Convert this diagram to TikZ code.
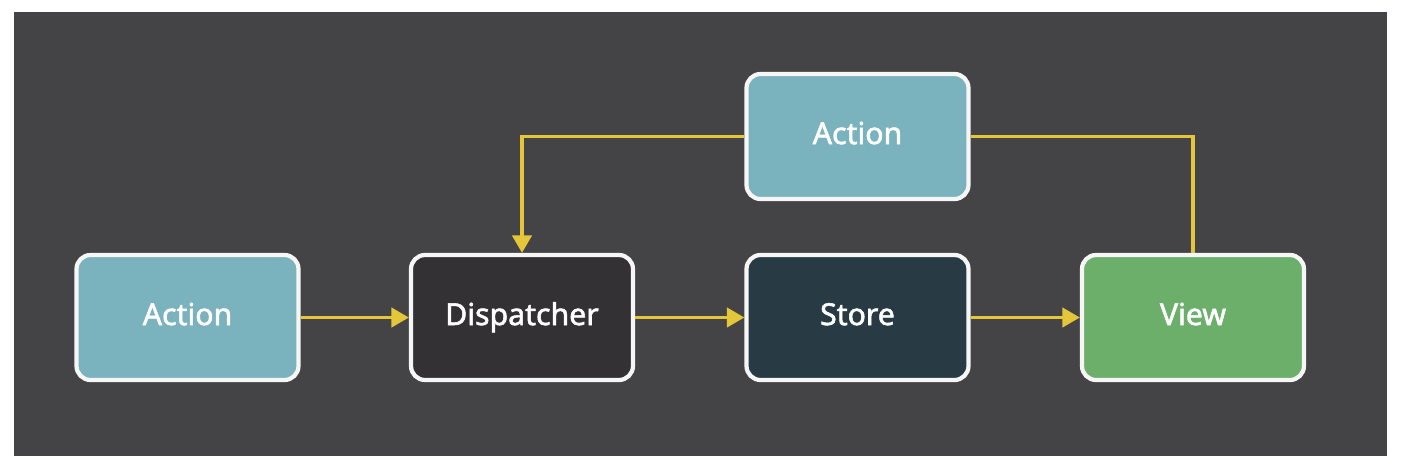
\documentclass[tikz,border=0pt]{standalone}
\usepackage{fontspec}
\setmainfont{Noto Sans}[AutoFakeBold=1.8]
\usepackage{tikz}
\usetikzlibrary{arrows.meta}

\definecolor{bgdark}{RGB}{68,68,70}
\definecolor{actionblue}{RGB}{122,178,189}
\definecolor{dispgray}{RGB}{51,49,51}
\definecolor{storeslate}{RGB}{40,59,68}
\definecolor{viewgreen}{RGB}{108,175,107}
\definecolor{flowyellow}{RGB}{228,198,58}
\definecolor{boxline}{RGB}{246,246,246}

\begin{document}
\begin{tikzpicture}[
    box/.style={draw=boxline, line width=1.2pt, rounded corners=4pt,
        minimum width=2.22cm, minimum height=1.25cm,
        text height=1.6ex, text depth=0.8ex,
        text=white, font=\bfseries\fontsize{8.6}{11}\selectfont},
    flow/.style={draw=flowyellow, line width=1pt},
    tip/.style={-{Triangle[length=5pt,width=5.5pt]}}
    ]
             \useasboundingbox[fill=white] (0,0) rectangle (14.08,4.72);
             \fill[bgdark] (0.14,0.16) rectangle (13.87,4.60);

             \node[box, fill=actionblue] (act1) at (1.875, 1.545) {Action};
             \node[box, fill=dispgray] (disp) at (5.22, 1.545) {Dispatcher};
             \node[box, fill=storeslate] (store) at (8.575, 1.545) {Store};
             \node[box, fill=viewgreen] (view) at (11.93, 1.545) {View};
             \node[box, fill=actionblue] (act2) at (8.575, 3.355) {Action};

             \draw[flow, tip] (act1) -- (disp);
             \draw[flow, tip] (disp) -- (store);
             \draw[flow, tip] (store) -- (view);
             \draw[flow, tip] (act2.west) -| (disp.north);
             \draw[flow] (view.north) |- (act2.east);
             \end{tikzpicture}
\end{document}
